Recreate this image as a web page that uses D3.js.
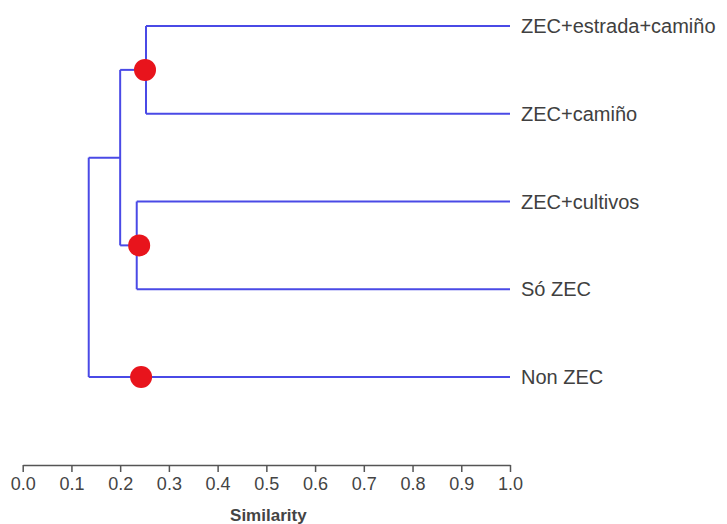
<!DOCTYPE html>
<html><head><meta charset="utf-8">
<script src="https://cdn.jsdelivr.net/npm/d3@7"></script>
<style>body{margin:0;background:#fff;} svg{display:block;}</style>
</head><body>
<svg id="chart" width="727" height="524"></svg>
<script>
const leaves = ["ZEC+estrada+camiño","ZEC+camiño","ZEC+cultivos","Só ZEC","Non ZEC"];
const leafSimilarity = 1.0;
const nodeNames = ["A","B","C","root"];
const nodeLeft  = ["ZEC+estrada+camiño","ZEC+cultivos","A","C"];
const nodeRight = ["ZEC+camiño","Só ZEC","B","Non ZEC"];
const nodeSimilarity = [0.253, 0.234, 0.200, 0.1355];
const markerAt = ["A","B","Non ZEC"];
const markerSimilarity = [0.251, 0.239, 0.243];
const tickValues = [0,0.1,0.2,0.3,0.4,0.5,0.6,0.7,0.8,0.9,1.0];
const axisTitle = "Similarity";

const font = "'Liberation Sans', Arial, sans-serif";
const svg = d3.select("#chart");
const x = d3.scaleLinear().domain([0,1]).range([22.7,510]);
const y = d3.scalePoint().domain(leaves).range([26,377]);

const sim = {}, ypos = {};
leaves.forEach(l => { sim[l] = leafSimilarity; ypos[l] = y(l); });
nodeNames.forEach((n,i) => {
  sim[n] = nodeSimilarity[i];
  ypos[n] = (ypos[nodeLeft[i]] + ypos[nodeRight[i]]) / 2;
});

const blue = "#4a4ae6";
const g = svg.append("g").attr("fill","none").attr("stroke",blue).attr("stroke-width",2);
nodeNames.forEach((n,i) => {
  const xs = x(sim[n]);
  g.append("line").attr("x1",xs).attr("x2",xs).attr("y1",ypos[nodeLeft[i]]).attr("y2",ypos[nodeRight[i]]);
  [nodeLeft[i], nodeRight[i]].forEach(c => {
    g.append("line").attr("x1",xs).attr("x2",x(sim[c])).attr("y1",ypos[c]).attr("y2",ypos[c]);
  });
});

svg.append("g").selectAll("circle").data(markerAt).join("circle")
  .attr("cx",(d,i)=>x(markerSimilarity[i]))
  .attr("cy",d=>ypos[d])
  .attr("r",11)
  .attr("fill","#e8141c");

svg.append("g").selectAll("text").data(leaves).join("text")
  .attr("x", x(leafSimilarity) + 11)
  .attr("y", d => y(d))
  .attr("dy","0.35em")
  .attr("font-family",font)
  .attr("font-size",20)
  .attr("fill","#404040")
  .text(d=>d);

const axis = d3.axisBottom(x).tickValues(tickValues).tickFormat(d3.format(".1f")).tickSize(7).tickSizeOuter(0);
const ax = svg.append("g").attr("transform","translate(0,465)").call(axis);
ax.select(".domain").attr("stroke","#555").attr("stroke-width",1.5);
ax.selectAll(".tick line").attr("stroke","#555").attr("stroke-width",1.5);
ax.selectAll(".tick text").attr("font-family",font)
  .attr("font-size",18).attr("fill","#444").attr("y",25).attr("dy",0);

svg.append("text").attr("x", x(0.5)+2).attr("y",521).attr("text-anchor","middle")
  .attr("font-family",font).attr("font-size",17)
  .attr("font-weight","bold").attr("fill","#444").text(axisTitle);
</script>
</body></html>
